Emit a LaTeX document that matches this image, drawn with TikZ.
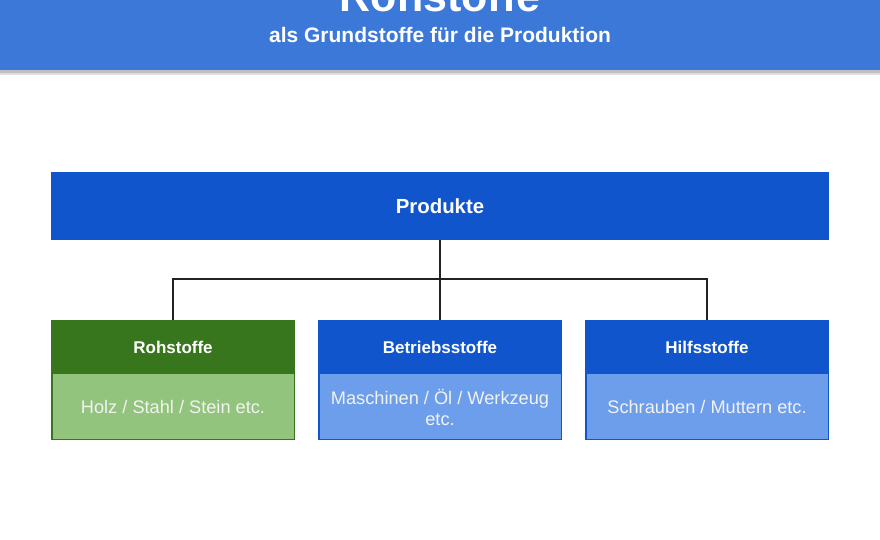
\documentclass[tikz,border=0pt]{standalone}
\usepackage{fontspec}
\setmainfont{Liberation Sans}
\definecolor{hdrblue}{HTML}{3C78D8}
\definecolor{dblue}{HTML}{1155CC}
\definecolor{lblue}{HTML}{6D9EEB}
\definecolor{dgreen}{HTML}{38761D}
\definecolor{lgreen}{HTML}{93C47D}
\definecolor{linegray}{HTML}{222222}
\tikzset{
  hdrtext/.style={text=white, font=\bfseries\fontsize{17}{20}\selectfont, anchor=center},
  bodytext/.style={text=white!95!black, font=\fontsize{18.2}{21}\selectfont, align=center, anchor=center},
  conn/.style={draw=linegray, line width=1.2pt},
}
\begin{document}
\begin{tikzpicture}[x=1pt,y=-1pt]
\useasboundingbox (0,0) rectangle (880,540);
\fill[white] (0,0) rectangle (880,540);
% header shadow
\fill[black!25] (0,69) rectangle (880,73);
\fill[black!12] (0,73) rectangle (880,75);
\fill[hdrblue] (0,0) rectangle (880,70);
\node[text=white, font=\bfseries\fontsize{43}{43}\selectfont, anchor=base] (title) at (440,12) {Rohstoffe};
\node[text=white, font=\bfseries\fontsize{21}{24}\selectfont, anchor=base] (subtitle) at (440,43) {als Grundstoffe für die Produktion};
% Produkte
\fill[dblue] (51,172) rectangle (829,240);
\node[text=white, font=\bfseries\fontsize{20.4}{24}\selectfont] (prod) at (440,206) {Produkte};
\coordinate (pbot) at (440,240);
% child boxes
\foreach \name/\x/\hc/\bc/\head/\body in {
  roh/51/dgreen/lgreen/Rohstoffe/{Holz / Stahl / Stein etc.},
  betr/318/dblue/lblue/Betriebsstoffe/{Maschinen / Öl / Werkzeug\\etc.},
  hilf/585/dblue/lblue/Hilfsstoffe/{Schrauben / Muttern etc.}}{
  \fill[\bc] (\x,374) rectangle ++(244,66);
  \fill[\hc] (\x,320) rectangle ++(244,54);
  \draw[\hc, line width=1.5pt] (\x+0.75,320.75) rectangle ++(242.5,118.5);
  \coordinate (\name top) at (\x+122,320);
  \node[hdrtext] (\name head) at (\x+122,347) {\head};
  \node[bodytext] (\name body) at (\x+122,407) {\body};
}
% connectors
\coordinate (junc) at (440,279);
\draw[conn] (pbot) -- (betrtop);
\draw[conn] (rohtop) |- (junc) -| (hilftop);
\end{tikzpicture}
\end{document}
